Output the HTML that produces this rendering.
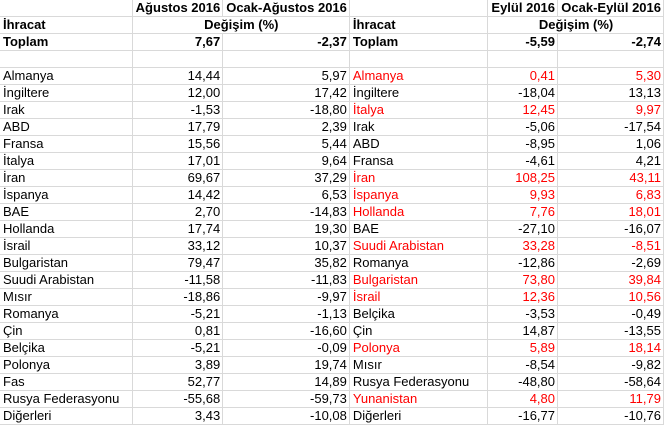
<!DOCTYPE html>
<html><head><meta charset="utf-8"><style>
html,body{margin:0;padding:0;background:#fff;width:664px;height:426px;overflow:hidden}
table{border-collapse:collapse;table-layout:fixed;font-family:"Liberation Sans",Arial,sans-serif;font-size:13px;color:#000;position:absolute;left:0;top:0}
td{height:16px;padding:0 2px 0 3px;border:1px solid #d9d9d9;white-space:nowrap;overflow:hidden;line-height:16px;vertical-align:bottom}
td.n{text-align:right}
.b{font-weight:bold}
.r{color:#ff0000}
tr:first-child td{border-top:none}
td:first-child{border-left:none}
</style></head><body>
<table>
<colgroup><col style="width:134px"><col style="width:87px"><col style="width:125px"><col style="width:141px"><col style="width:70px"><col style="width:106px"></colgroup>
<tr class="b"><td></td><td class="n">Ağustos 2016</td><td class="n">Ocak-Ağustos 2016</td><td></td><td class="n">Eylül 2016</td><td class="n">Ocak-Eylül 2016</td></tr>
<tr class="b"><td>İhracat</td><td colspan="2" style="text-align:center">Değişim (%)</td><td>İhracat</td><td colspan="2" style="text-align:center">Değişim (%)</td></tr>
<tr class="b"><td>Toplam</td><td class="n">7,67</td><td class="n">-2,37</td><td>Toplam</td><td class="n">-5,59</td><td class="n">-2,74</td></tr>
<tr><td></td><td></td><td></td><td></td><td></td><td></td></tr>
<tr><td>Almanya</td><td class="n">14,44</td><td class="n">5,97</td><td class="r">Almanya</td><td class="n r">0,41</td><td class="n r">5,30</td></tr>
<tr><td>İngiltere</td><td class="n">12,00</td><td class="n">17,42</td><td>İngiltere</td><td class="n">-18,04</td><td class="n">13,13</td></tr>
<tr><td>Irak</td><td class="n">-1,53</td><td class="n">-18,80</td><td class="r">İtalya</td><td class="n r">12,45</td><td class="n r">9,97</td></tr>
<tr><td>ABD</td><td class="n">17,79</td><td class="n">2,39</td><td>Irak</td><td class="n">-5,06</td><td class="n">-17,54</td></tr>
<tr><td>Fransa</td><td class="n">15,56</td><td class="n">5,44</td><td>ABD</td><td class="n">-8,95</td><td class="n">1,06</td></tr>
<tr><td>İtalya</td><td class="n">17,01</td><td class="n">9,64</td><td>Fransa</td><td class="n">-4,61</td><td class="n">4,21</td></tr>
<tr><td>İran</td><td class="n">69,67</td><td class="n">37,29</td><td class="r">İran</td><td class="n r">108,25</td><td class="n r">43,11</td></tr>
<tr><td>İspanya</td><td class="n">14,42</td><td class="n">6,53</td><td class="r">İspanya</td><td class="n r">9,93</td><td class="n r">6,83</td></tr>
<tr><td>BAE</td><td class="n">2,70</td><td class="n">-14,83</td><td class="r">Hollanda</td><td class="n r">7,76</td><td class="n r">18,01</td></tr>
<tr><td>Hollanda</td><td class="n">17,74</td><td class="n">19,30</td><td>BAE</td><td class="n">-27,10</td><td class="n">-16,07</td></tr>
<tr><td>İsrail</td><td class="n">33,12</td><td class="n">10,37</td><td class="r">Suudi Arabistan</td><td class="n r">33,28</td><td class="n r">-8,51</td></tr>
<tr><td>Bulgaristan</td><td class="n">79,47</td><td class="n">35,82</td><td>Romanya</td><td class="n">-12,86</td><td class="n">-2,69</td></tr>
<tr><td>Suudi Arabistan</td><td class="n">-11,58</td><td class="n">-11,83</td><td class="r">Bulgaristan</td><td class="n r">73,80</td><td class="n r">39,84</td></tr>
<tr><td>Mısır</td><td class="n">-18,86</td><td class="n">-9,97</td><td class="r">İsrail</td><td class="n r">12,36</td><td class="n r">10,56</td></tr>
<tr><td>Romanya</td><td class="n">-5,21</td><td class="n">-1,13</td><td>Belçika</td><td class="n">-3,53</td><td class="n">-0,49</td></tr>
<tr><td>Çin</td><td class="n">0,81</td><td class="n">-16,60</td><td>Çin</td><td class="n">14,87</td><td class="n">-13,55</td></tr>
<tr><td>Belçika</td><td class="n">-5,21</td><td class="n">-0,09</td><td class="r">Polonya</td><td class="n r">5,89</td><td class="n r">18,14</td></tr>
<tr><td>Polonya</td><td class="n">3,89</td><td class="n">19,74</td><td>Mısır</td><td class="n">-8,54</td><td class="n">-9,82</td></tr>
<tr><td>Fas</td><td class="n">52,77</td><td class="n">14,89</td><td>Rusya Federasyonu</td><td class="n">-48,80</td><td class="n">-58,64</td></tr>
<tr><td>Rusya Federasyonu</td><td class="n">-55,68</td><td class="n">-59,73</td><td class="r">Yunanistan</td><td class="n r">4,80</td><td class="n r">11,79</td></tr>
<tr><td>Diğerleri</td><td class="n">3,43</td><td class="n">-10,08</td><td>Diğerleri</td><td class="n">-16,77</td><td class="n">-10,76</td></tr>
</table>
</body></html>
